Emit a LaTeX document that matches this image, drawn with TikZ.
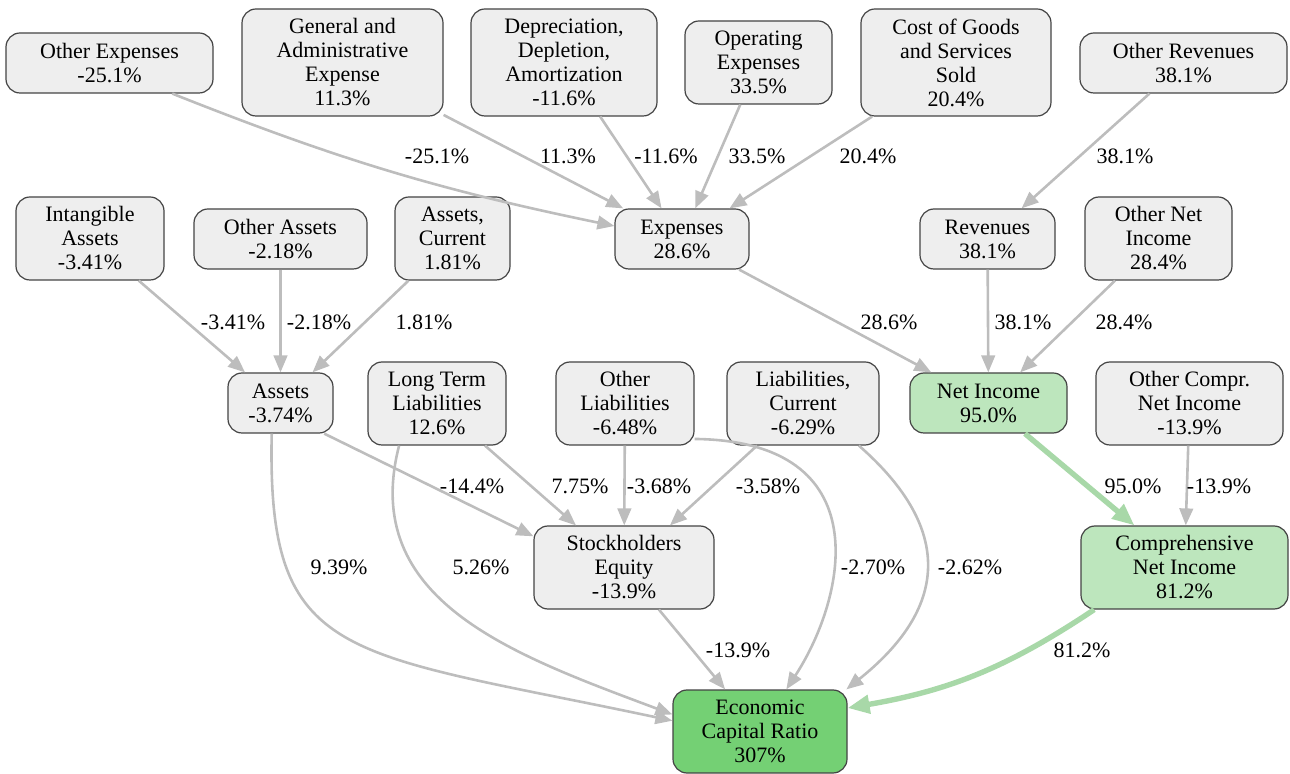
\documentclass[tikz,border=0pt]{standalone}
\usepackage{fontspec}
\setmainfont{Liberation Serif}
\usetikzlibrary{arrows.meta}
\definecolor{boxgray}{HTML}{EEEEEE}
\definecolor{boxline}{HTML}{444444}
\definecolor{edgegray}{HTML}{BDBDBD}
\definecolor{lightgreen}{HTML}{BDE6BD}
\definecolor{midgreen}{HTML}{74D074}
\definecolor{edgegreen}{HTML}{A8D8A8}

\tikzset{
  box/.style={draw=boxline, line width=0.6pt, fill=boxgray, rounded corners=7pt,
    align=center, inner sep=0pt, font=\fontsize{11}{12}\selectfont},
  lines2/.style={minimum height=30pt},
  lines3/.style={minimum height=41.5pt},
  lines4/.style={minimum height=53.5pt},
  lbl/.style={inner sep=0pt, font=\fontsize{11}{12}\selectfont},
  link/.style={draw=edgegray, line width=1.3pt, -{Triangle[length=8.5pt,width=6.8pt]}},
  hot/.style={draw=edgegreen, line width=2.7pt, -{Triangle[length=11pt,width=9pt]}}
}

\begin{document}
\begin{tikzpicture}[x=0.5pt, y=-0.5pt]
\useasboundingbox (0,0) rectangle (1290,774);
%% \draw[help lines] (0,0) grid[step=50] (1290,774);

% top row
\node[box, lines2, minimum width=103.5pt] (oexp) at (109.5,63) {Other Expenses\\-25.1\%};
\node[box, lines4, minimum width=100.5pt] (gae) at (342.5,62.5) {General and\\Administrative\\Expense\\11.3\%};
\node[box, lines4, minimum width=93pt] (dda) at (564,62.5) {Depreciation,\\Depletion,\\Amortization\\-11.6\%};
\node[box, lines3, minimum width=73.5pt] (opex) at (758.5,62.5) {Operating\\Expenses\\33.5\%};
\node[box, lines4, minimum width=95pt] (cogs) at (956,62.5) {Cost of Goods\\and Services\\Sold\\20.4\%};
\node[box, lines2, minimum width=103.5pt] (orev) at (1183.5,63) {Other Revenues\\38.1\%};

% second row
\node[box, lines3, minimum width=74pt] (ia) at (90,238.5) {Intangible\\Assets\\-3.41\%};
\node[box, lines2, minimum width=86.5pt] (oa) at (280.5,239) {Other Assets\\-2.18\%};
\node[box, lines3, minimum width=57.5pt] (ac) at (452.5,238.5) {Assets,\\Current\\1.81\%};
\node[box, lines2, minimum width=67pt] (exp) at (682,239) {Expenses\\28.6\%};
\node[box, lines2, minimum width=67.5pt] (rev) at (987.5,239) {Revenues\\38.1\%};
\node[box, lines3, minimum width=73.5pt] (oni) at (1158.5,238.5) {Other Net\\Income\\28.4\%};

% third row
\node[box, lines2, minimum width=52.5pt] (as) at (280.5,403) {Assets\\-3.74\%};
\node[box, lines3, minimum width=69pt] (ltl) at (437,403.5) {Long Term\\Liabilities\\12.6\%};
\node[box, lines3, minimum width=69pt] (ol) at (625,403.5) {Other\\Liabilities\\-6.48\%};
\node[box, lines3, minimum width=76pt] (lc) at (803,403.5) {Liabilities,\\Current\\-6.29\%};
\node[box, lines2, minimum width=78.5pt, fill=lightgreen] (ni) at (988.5,403) {Net Income\\95.0\%};
\node[box, lines3, minimum width=93.5pt] (ocni) at (1189.5,403.5) {Other Compr.\\Net Income\\-13.9\%};

% lower rows
\node[box, lines3, minimum width=90pt] (se) at (624,567.5) {Stockholders\\Equity\\-13.9\%};
\node[box, lines3, minimum width=103.5pt, fill=lightgreen] (cni) at (1184.5,567.5) {Comprehensive\\Net Income\\81.2\%};
\node[box, lines3, minimum width=87pt, fill=midgreen] (ecr) at (760,731.5) {Economic\\Capital Ratio\\307\%};

% into expenses and revenues
\draw[link] (oexp.-26) to[bend right=5] (exp);
\draw[link] (gae) -- (exp);
\draw[link] (dda) -- (exp);
\draw[link] (opex) -- (exp);
\draw[link] (cogs) -- (exp);
\draw[link] (orev) -- (rev);
\node[lbl] (l-oexp) at (437,156) {-25.1\%};
\node[lbl] (l-gae) at (568,156) {11.3\%};
\node[lbl] (l-dda) at (666,156) {-11.6\%};
\node[lbl] (l-opex) at (757,156) {33.5\%};
\node[lbl] (l-cogs) at (868,156) {20.4\%};
\node[lbl] (l-orev) at (1125,156) {38.1\%};

% into assets and net income
\draw[link] (ia) -- (as);
\draw[link] (oa) -- (as);
\draw[link] (ac) -- (as);
\draw[link] (exp) -- (ni);
\draw[link] (rev) -- (ni);
\draw[link] (oni) -- (ni);
\node[lbl] (l-ia) at (233,322) {-3.41\%};
\node[lbl] (l-oa) at (319,322) {-2.18\%};
\node[lbl] (l-ac) at (424,322) {1.81\%};
\node[lbl] (l-exp) at (889,322) {28.6\%};
\node[lbl] (l-rev) at (1023,322) {38.1\%};
\node[lbl] (l-oni) at (1124,322) {28.4\%};

% into stockholders equity and comprehensive net income
\draw[link] (as.-35) -- (se.161);
\draw[link] (ltl) -- (se);
\draw[link] (ol) -- (se);
\draw[link] (lc) -- (se);
\draw[hot] (ni) -- (cni);
\draw[link] (ocni) -- (cni);
\node[lbl] (l-as-se) at (472,486) {-14.4\%};
\node[lbl] (l-ltl-se) at (580,486) {7.75\%};
\node[lbl] (l-ol-se) at (659,486) {-3.68\%};
\node[lbl] (l-lc-se) at (768,486) {-3.58\%};
\node[lbl] (l-ni) at (1133,486) {95.0\%};
\node[lbl] (l-ocni) at (1219,486) {-13.9\%};

% into economic capital ratio
\draw[link] (as.-106) .. controls +(-5,230) and +(-330,-70) .. (ecr.173);
\draw[link] (ltl.-132) .. controls +(-40,155) and +(-160,-60) .. (ecr.169);
\draw[link] (ol.-27) .. controls +(186,2) and +(60,-92) .. (ecr.58);
\draw[link] (lc.-37) .. controls +(97,85) and +(100,-80) .. (ecr.26);
\draw[link] (se) -- (ecr);
\draw[hot] (cni.-155) to[bend left=12] (ecr.15);
\node[lbl] (l-as-ecr) at (339,567) {9.39\%};
\node[lbl] (l-ltl-ecr) at (481,567) {5.26\%};
\node[lbl] (l-ol-ecr) at (873,567) {-2.70\%};
\node[lbl] (l-lc-ecr) at (970,567) {-2.62\%};
\node[lbl] (l-se) at (738,650) {-13.9\%};
\node[lbl] (l-cni) at (1082,650) {81.2\%};
\end{tikzpicture}
\end{document}
